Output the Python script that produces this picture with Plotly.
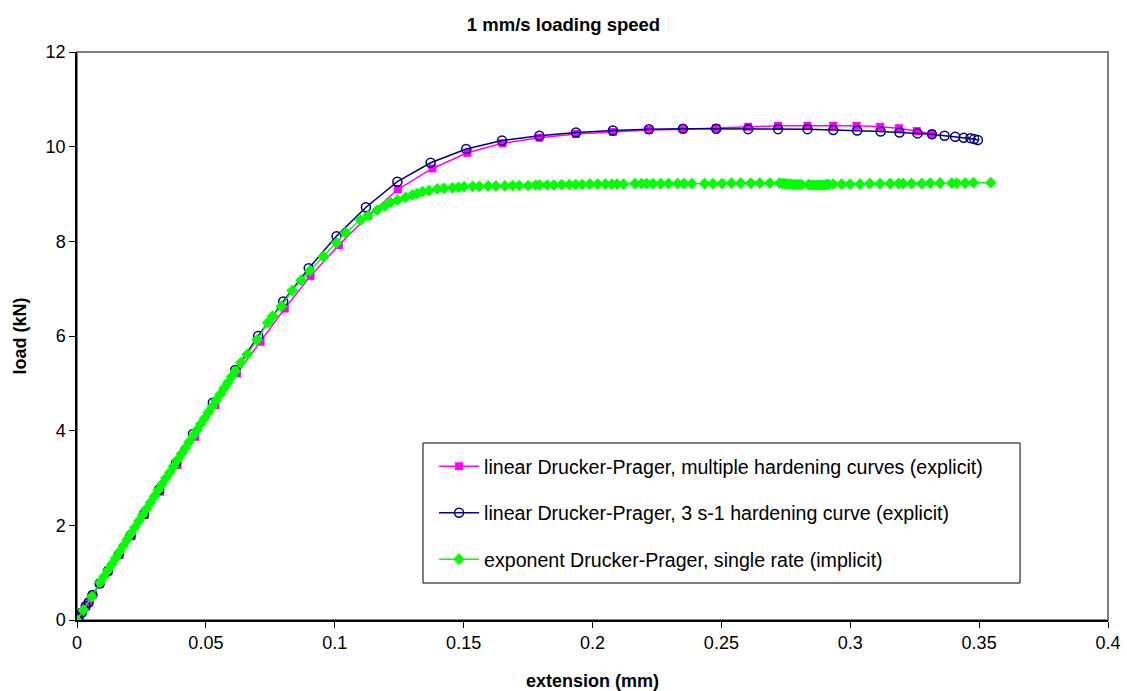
import plotly.graph_objects as go

# ---- data ----
mag_x = [0, 0.0008, 0.002, 0.0035, 0.0045, 0.0061, 0.0089, 0.0122, 0.0165, 0.0212, 0.0264,
         0.0323, 0.039, 0.0459, 0.0537, 0.0621, 0.0712, 0.0806, 0.0906, 0.1016, 0.113,
         0.1245, 0.1379, 0.1515, 0.1651, 0.1794, 0.1936, 0.2079, 0.2219, 0.2351, 0.248,
         0.2604, 0.272, 0.2834, 0.2934, 0.3025, 0.3116, 0.3189, 0.3258, 0.3317]
mag_y = [0, 0.06, 0.16, 0.28, 0.36, 0.53, 0.76, 1.02, 1.37, 1.77, 2.22,
         2.71, 3.27, 3.87, 4.54, 5.21, 5.88, 6.58, 7.27, 7.92, 8.54,
         9.10, 9.54, 9.87, 10.07, 10.19, 10.27, 10.31, 10.35, 10.37, 10.39,
         10.42, 10.44, 10.44, 10.44, 10.44, 10.42, 10.39, 10.33, 10.27]

blue_x = [0, 0.0006, 0.0019, 0.0034, 0.0045, 0.006, 0.0088, 0.012, 0.0162, 0.0208, 0.026,
          0.0318, 0.0384, 0.045, 0.0527, 0.0614, 0.0703, 0.080, 0.0899, 0.1007, 0.1121,
          0.1243, 0.1372, 0.151, 0.1649, 0.1794, 0.1936, 0.2079, 0.2219, 0.2351, 0.248,
          0.2604, 0.272, 0.2834, 0.2934, 0.3027, 0.3118, 0.3191, 0.3261, 0.3317, 0.3366,
          0.3407, 0.344, 0.3466, 0.3481, 0.3495]
blue_y = [0, 0.05, 0.16, 0.29, 0.37, 0.53, 0.77, 1.04, 1.39, 1.79, 2.24,
          2.75, 3.32, 3.93, 4.59, 5.28, 6.0, 6.73, 7.43, 8.11, 8.72,
          9.26, 9.66, 9.95, 10.13, 10.23, 10.30, 10.34, 10.37, 10.38, 10.38,
          10.37, 10.37, 10.37, 10.35, 10.34, 10.32, 10.30, 10.28, 10.26, 10.23,
          10.21, 10.19, 10.18, 10.16, 10.14]

green_x = [0, 0.0025, 0.0057, 0.009, 0.0105, 0.012, 0.0135, 0.015, 0.0165, 0.018, 0.0195,
           0.021, 0.0225, 0.024, 0.0255, 0.027, 0.0285, 0.030, 0.0315, 0.033, 0.0345,
           0.036, 0.0375, 0.039, 0.0405, 0.042, 0.0435, 0.045, 0.0465, 0.048, 0.0495,
           0.051, 0.0525, 0.054, 0.0555, 0.057, 0.0585, 0.060, 0.0615, 0.0636,
           0.066, 0.0699, 0.074, 0.0759, 0.0793, 0.0835, 0.0869, 0.0903, 0.0955, 0.1007,
           0.1042, 0.110, 0.1129, 0.1165, 0.1195, 0.1217, 0.1243, 0.1275, 0.1301, 0.132,
           0.134, 0.1366, 0.1398, 0.1424, 0.1457, 0.148, 0.1502,
           0.1535, 0.156, 0.1595, 0.1625, 0.166, 0.169, 0.1715, 0.175, 0.178, 0.1795,
           0.1825, 0.185, 0.188, 0.191, 0.1935, 0.196, 0.199, 0.202, 0.205, 0.2075,
           0.2095, 0.212, 0.2165, 0.219, 0.221, 0.2235, 0.2265, 0.2295, 0.233, 0.2355,
           0.2385, 0.2435, 0.2467, 0.2502, 0.2539, 0.2575, 0.2614, 0.2649, 0.2688,
           0.2726, 0.2737, 0.2748, 0.2758, 0.2769, 0.278, 0.279, 0.2801, 0.2811,
           0.2838, 0.2848, 0.2858, 0.2868, 0.2878, 0.2888, 0.2898, 0.2908, 0.2916,
           0.2934, 0.2966, 0.2999, 0.3038, 0.3076, 0.3115, 0.3154, 0.3187, 0.3206,
           0.3238, 0.3277, 0.3310, 0.3348, 0.3394, 0.3413, 0.3446, 0.3478, 0.3545]
green_y = [0, 0.21, 0.49, 0.79, 0.92, 1.05, 1.18, 1.31, 1.44, 1.57, 1.70,
           1.83, 1.96, 2.09, 2.22, 2.35, 2.48, 2.61, 2.74, 2.87, 3.0,
           3.12, 3.25, 3.38, 3.51, 3.63, 3.76, 3.89, 4.01, 4.14, 4.26,
           4.39, 4.51, 4.64, 4.76, 4.89, 5.01, 5.14, 5.26, 5.44,
           5.61, 5.92, 6.28, 6.42, 6.63, 6.96, 7.18, 7.38, 7.68, 7.97,
           8.18, 8.45, 8.54, 8.66, 8.75, 8.82, 8.87, 8.93, 8.98, 9.01,
           9.05, 9.07, 9.11, 9.12, 9.13, 9.14, 9.155,
           9.16, 9.16, 9.17, 9.17, 9.17, 9.18, 9.18, 9.18, 9.19, 9.19,
           9.19, 9.19, 9.20, 9.20, 9.20, 9.20, 9.21, 9.21, 9.21, 9.21,
           9.21, 9.21, 9.22, 9.22, 9.22, 9.22, 9.22, 9.22, 9.22, 9.22,
           9.22, 9.22, 9.22, 9.22, 9.23, 9.23, 9.23, 9.23, 9.23,
           9.23, 9.22, 9.22, 9.21, 9.21, 9.20, 9.20, 9.20, 9.20,
           9.20, 9.19, 9.19, 9.19, 9.19, 9.19, 9.19, 9.20, 9.20,
           9.21, 9.21, 9.21, 9.21, 9.22, 9.22, 9.22, 9.22, 9.22,
           9.22, 9.22, 9.23, 9.23, 9.23, 9.23, 9.23, 9.24, 9.24]

names = ["linear Drucker-Prager, multiple hardening curves (explicit)",
         "linear Drucker-Prager, 3 s-1 hardening curve (explicit)",
         "exponent Drucker-Prager, single rate (implicit)"]

x_ticks = [0, 0.05, 0.1, 0.15, 0.2, 0.25, 0.3, 0.35, 0.4]
x_tick_text = ["0", "0.05", "0.1", "0.15", "0.2", "0.25", "0.3", "0.35", "0.4"]
y_ticks = [0, 2, 4, 6, 8, 10, 12]

FONT = "Arial, Liberation Sans, sans-serif"

fig = go.Figure()
fig.add_trace(go.Scatter(x=mag_x, y=mag_y, mode="lines+markers", name=names[0],
                         legendgroup="a",
                         line=dict(color="#FF00FF", width=1.5),
                         marker=dict(symbol="square", size=8, color="#FF00FF")))
fig.add_trace(go.Scatter(x=blue_x, y=blue_y, mode="lines+markers", name=names[1],
                         legendgroup="b",
                         line=dict(color="#000080", width=1.5),
                         marker=dict(symbol="circle-open", size=9, color="#000080",
                                     line=dict(width=1.5, color="#000080"))))
fig.add_trace(go.Scatter(x=green_x, y=green_y, mode="lines+markers", name=names[2],
                         legendgroup="c",
                         line=dict(color="#00FF00", width=1.5),
                         marker=dict(symbol="diamond", size=9, color="#00FF00")))

fig.update_layout(
    width=1127, height=691,
    margin=dict(l=77, r=19, t=52, b=71),
    paper_bgcolor="white", plot_bgcolor="white",
    font=dict(family=FONT, size=18, color="black"),
    title=dict(text="<b>1 mm/s loading speed</b>", x=0.5, xanchor="center",
               y=1 - 25 / 691, yanchor="middle", font=dict(size=18.5)),
    showlegend=True,
    legend=dict(x=0.3463, y=0.3046, xanchor="left", yanchor="top",
                borderwidth=0, bgcolor="rgba(0,0,0,0)",
                font=dict(size=19.6), tracegroupgap=18,
                itemwidth=40),
    shapes=[dict(type="rect", xref="paper", yref="paper", x0=0, x1=1, y0=0, y1=1,
                 line=dict(color="#808080", width=2), layer="below"),
            dict(type="rect", xref="paper", yref="paper", x0=0.3356, x1=0.9147,
                 y0=0.0651, y1=0.3116, line=dict(color="black", width=1),
                 fillcolor="white", layer="above")],
)
fig.update_xaxes(range=[0, 0.4], tickvals=x_ticks, ticktext=x_tick_text,
                 showline=True, linecolor="black", linewidth=1.5, automargin=False,
                 ticks="outside", ticklen=6, tickcolor="black", showgrid=False,
                 zeroline=False, tickfont=dict(size=18),
                 title=dict(text="<b>extension (mm)</b>", font=dict(size=18), standoff=22))
fig.update_yaxes(range=[0, 12], tickvals=y_ticks,
                 showline=True, linecolor="black", linewidth=1.5, automargin=False,
                 ticks="outside", ticklen=6, tickcolor="black", showgrid=False,
                 zeroline=False, tickfont=dict(size=18),
                 title=dict(text="<b>load (kN)</b>", font=dict(size=18), standoff=14))

fig.write_html("out.html")
